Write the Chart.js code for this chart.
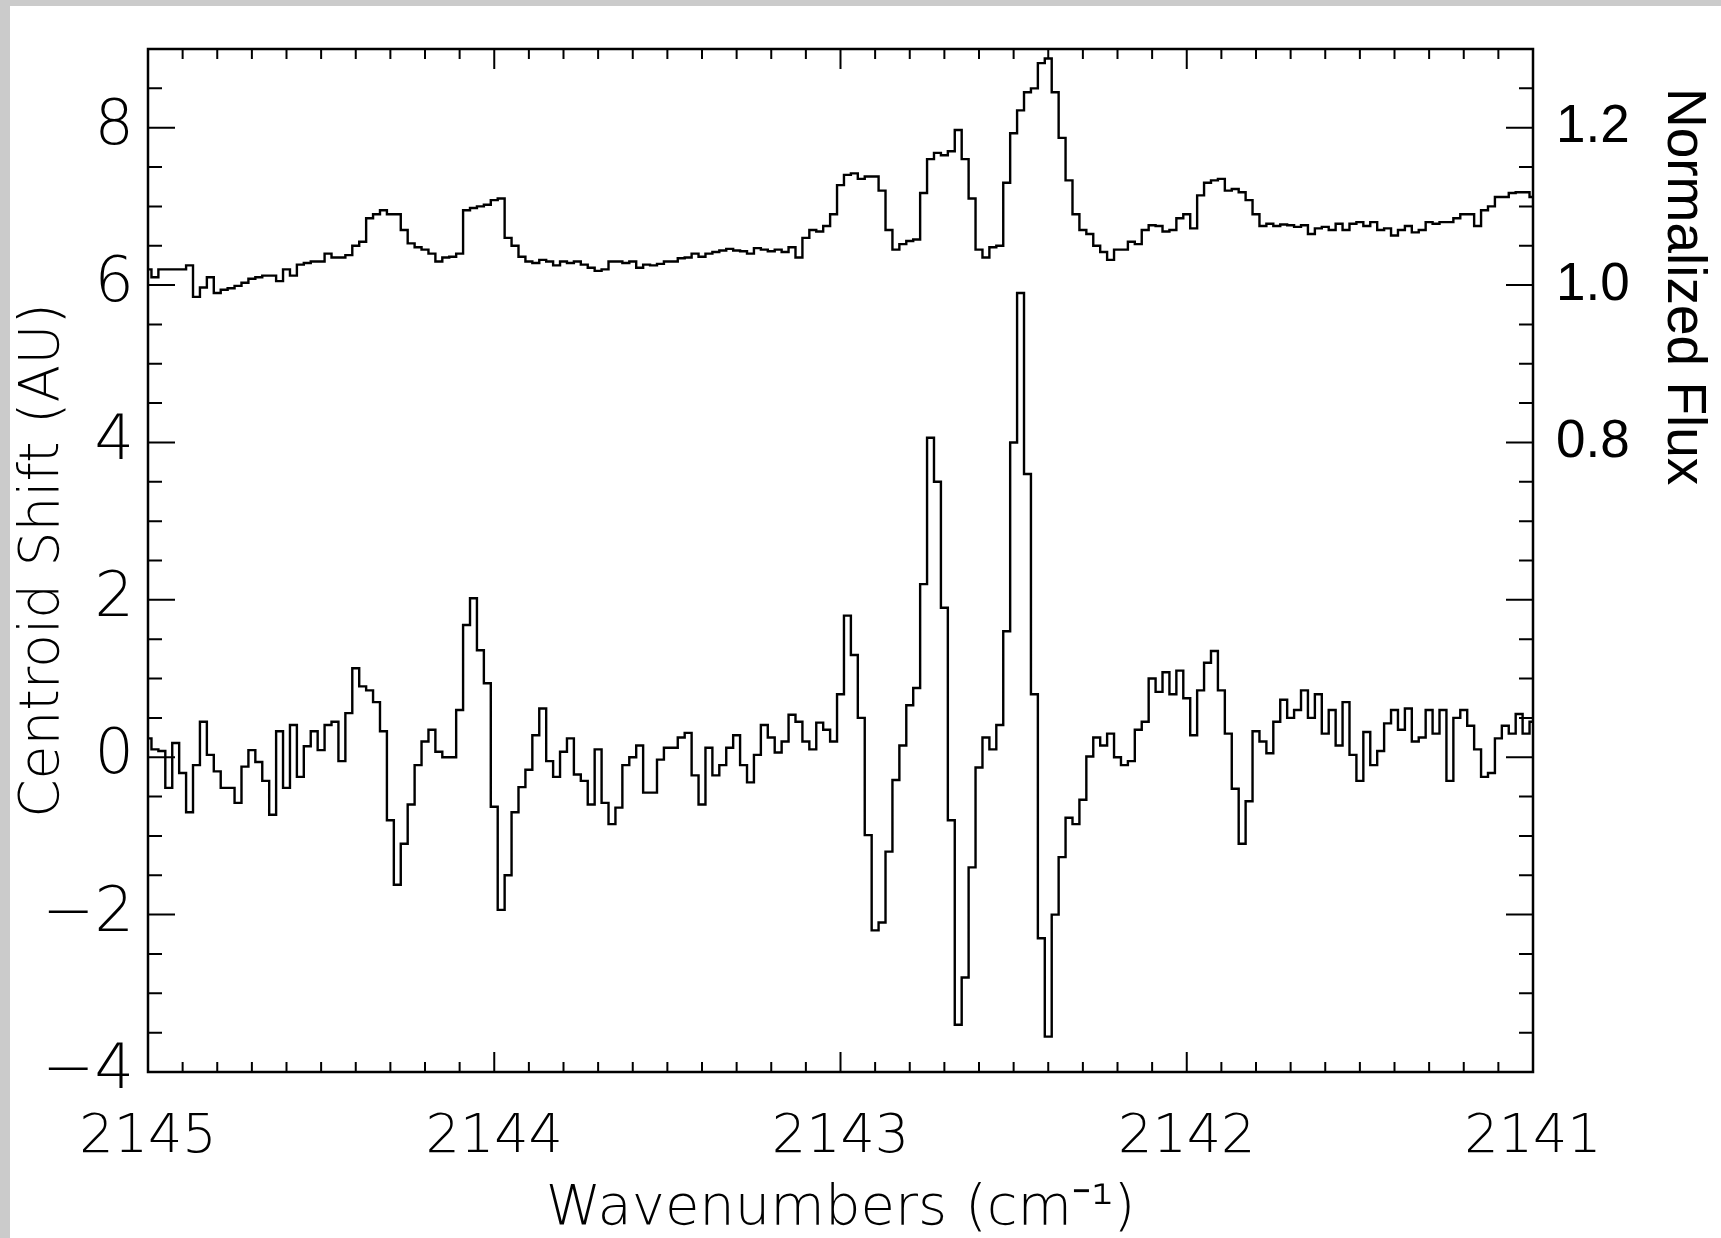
<!DOCTYPE html>
<html>
<head>
<meta charset="utf-8">
<title>Centroid shift and normalized flux</title>
<script src="https://cdn.jsdelivr.net/npm/chart.js@4.4.1/dist/chart.umd.min.js"></script>
<style>
  html, body { margin: 0; padding: 0; background: #cbcbcb; }
  #wrap { position: absolute; left: 10px; top: 6px; width: 1711px; height: 1232px; background: #fff; }
</style>
</head>
<body>
<div id="wrap"><canvas id="shiftChart" width="1711" height="1232"></canvas></div>
<script>
// spectral grid: bin centres from 2145 cm^-1 downward
const WN_START = 2145;
const WN_STEP = 0.02;

// spectro-astrometric centroid shift (AU), left axis
const centroidShift = [
  0.24, 0.1, 0.08, -0.39, 0.18, -0.2, -0.7, -0.1, 0.45, 0.03,
  -0.18, -0.39, -0.39, -0.58, -0.12, 0.09, -0.06, -0.3, -0.73, 0.33,
  -0.39, 0.41, -0.25, 0.14, 0.33, 0.09, 0.41, 0.45, -0.05, 0.56,
  1.13, 0.9, 0.85, 0.7, 0.33, -0.8, -1.62, -1.1, -0.6, -0.1,
  0.2, 0.35, 0.07, 0.0, 0.0, 0.6, 1.68, 2.02, 1.36, 0.94,
  -0.63, -1.94, -1.5, -0.7, -0.38, -0.16, 0.28, 0.62, -0.05, -0.25,
  0.07, 0.24, -0.22, -0.3, -0.6, 0.1, -0.58, -0.85, -0.64, -0.1,
  0.0, 0.15, -0.45, -0.45, -0.03, 0.12, 0.12, 0.25, 0.31, -0.23,
  -0.6, 0.12, -0.23, -0.1, 0.12, 0.28, -0.1, -0.32, 0.03, 0.41,
  0.25, 0.06, 0.2, 0.54, 0.45, 0.2, 0.1, 0.44, 0.35, 0.2,
  0.8, 1.8, 1.3, 0.5, -0.99, -2.2, -2.1, -1.2, -0.29, 0.15,
  0.66, 0.88, 2.2, 4.06, 3.5, 1.9, -0.8, -3.4, -2.8, -1.4,
  -0.13, 0.25, 0.1, 0.41, 1.6, 4.0, 5.9, 3.6, 0.8, -2.3,
  -3.55, -2.0, -1.27, -0.77, -0.85, -0.54, 0.01, 0.25, 0.15, 0.3,
  0.0, -0.1, -0.05, 0.35, 0.45, 1.0, 0.83, 1.08, 0.8, 1.1,
  0.75, 0.28, 0.85, 1.2, 1.35, 0.85, 0.3, -0.4, -1.1, -0.56,
  0.33, 0.2, 0.05, 0.45, 0.73, 0.5, 0.6, 0.85, 0.5, 0.8,
  0.3, 0.6, 0.15, 0.7, 0.03, -0.3, 0.32, -0.1, 0.08, 0.43,
  0.6, 0.35, 0.62, 0.2, 0.25, 0.6, 0.3, 0.6, -0.3, 0.5,
  0.6, 0.4, 0.1, -0.25, -0.2, 0.24, 0.4, 0.3, 0.55, 0.3, 0.45
];

// continuum-normalized flux, right axis
const normalizedFlux = [
  1.02, 1.01, 1.02, 1.02, 1.02, 1.02, 1.025, 0.985, 0.997, 1.01,
  0.99, 0.994, 0.996, 0.999, 1.003, 1.008, 1.01, 1.012, 1.012, 1.005,
  1.02, 1.012, 1.026, 1.028, 1.03, 1.03, 1.04, 1.035, 1.035, 1.038,
  1.05, 1.055, 1.085, 1.09, 1.095, 1.09, 1.09, 1.07, 1.053, 1.048,
  1.045, 1.04, 1.03, 1.035, 1.036, 1.04, 1.095, 1.098, 1.1, 1.102,
  1.108, 1.11, 1.06, 1.05, 1.036, 1.03, 1.028, 1.032, 1.03, 1.025,
  1.03, 1.028, 1.03, 1.026, 1.022, 1.018, 1.02, 1.03, 1.03, 1.028,
  1.03, 1.022, 1.026, 1.025, 1.027, 1.03, 1.03, 1.034, 1.035, 1.04,
  1.036, 1.04, 1.042, 1.044, 1.046, 1.044, 1.043, 1.04, 1.047, 1.045,
  1.043, 1.045, 1.042, 1.048, 1.035, 1.06, 1.07, 1.068, 1.075, 1.09,
  1.127, 1.14, 1.142, 1.135, 1.138, 1.138, 1.12, 1.07, 1.045, 1.052,
  1.056, 1.058, 1.117, 1.16, 1.168, 1.165, 1.17, 1.197, 1.16, 1.11,
  1.045, 1.035, 1.048, 1.05, 1.13, 1.193, 1.222, 1.245, 1.25, 1.282,
  1.288, 1.245, 1.187, 1.133, 1.09, 1.07, 1.065, 1.05, 1.042, 1.032,
  1.045, 1.045, 1.055, 1.052, 1.07, 1.076, 1.075, 1.068, 1.07, 1.085,
  1.09, 1.072, 1.114, 1.13, 1.133, 1.135, 1.12, 1.122, 1.118, 1.108,
  1.09, 1.075, 1.078, 1.075, 1.077, 1.076, 1.074, 1.076, 1.065, 1.072,
  1.074, 1.07, 1.078, 1.07, 1.078, 1.08, 1.075, 1.08, 1.07, 1.072,
  1.063, 1.07, 1.075, 1.067, 1.07, 1.08, 1.078, 1.08, 1.08, 1.085,
  1.09, 1.09, 1.075, 1.095, 1.1, 1.112, 1.112, 1.117, 1.118, 1.118, 1.112
];

const wavenumbers = centroidShift.map((_, i) => +(WN_START - i * WN_STEP).toFixed(2));

// labelled ticks
const xLabels = [2145, 2144, 2143, 2142, 2141];
const leftLabels = [-4, -2, 0, 2, 4, 6, 8];
const rightLabels = [0.8, 1.0, 1.2];

const near = (a, b) => Math.abs(a - b) < 1e-6;
const inList = (list, v) => list.some((l) => near(l, v));
const thinFont = '"DejaVu Sans", sans-serif';

// fixed axis box; drop the label overhang so the frame sits where the layout padding puts it
const fixWidth = (w) => (s) => {
  s.width = w;
  s.paddingTop = 0;
  s.paddingBottom = 0;
};

// idl-style frame: ticks point inward on all four sides
const frameTicks = {
  id: "frameTicks",
  afterDraw(chart) {
    const { ctx, chartArea: a } = chart;
    const { x, y, y1 } = chart.scales;
    ctx.save();
    ctx.strokeStyle = "#000";
    ctx.lineWidth = 2;
    ctx.beginPath();
    x.ticks.forEach((t) => {
      const px = x.getPixelForValue(t.value);
      const len = near(t.value, Math.round(t.value)) ? 20 : 10;
      ctx.moveTo(px, a.bottom); ctx.lineTo(px, a.bottom - len);
      ctx.moveTo(px, a.top); ctx.lineTo(px, a.top + len);
    });
    y.ticks.forEach((t) => {
      const py = y.getPixelForValue(t.value);
      const len = near(t.value / 2, Math.round(t.value / 2)) ? 27 : 14;
      ctx.moveTo(a.left, py); ctx.lineTo(a.left + len, py);
    });
    y1.ticks.forEach((t) => {
      const py = y1.getPixelForValue(t.value);
      const len = near(t.value / 0.2, Math.round(t.value / 0.2)) ? 27 : 14;
      ctx.moveTo(a.right, py); ctx.lineTo(a.right - len, py);
    });
    ctx.stroke();
    ctx.lineWidth = 2.5;
    ctx.strokeRect(a.left, a.top, a.width, a.height);

    // right-hand axis title, reads top to bottom
    ctx.fillStyle = "#000";
    ctx.font = '55px "Liberation Sans", Arial, sans-serif';
    ctx.textAlign = "left";
    ctx.textBaseline = "middle";
    ctx.translate(a.right + 150, a.top + 39);
    ctx.rotate(Math.PI / 2);
    ctx.fillText("Normalized Flux", 0, 0);
    ctx.restore();
  }
};

const lineStyle = {
  borderColor: "#000",
  borderWidth: 2.4,
  pointRadius: 0,
  fill: false,
  stepped: "middle"
};

const chart = new Chart(document.getElementById("shiftChart").getContext("2d"), {
  type: "line",
  data: {
    datasets: [
      {
        ...lineStyle,
        label: "Centroid Shift",
        yAxisID: "y",
        data: wavenumbers.map((w, i) => ({ x: w, y: centroidShift[i] }))
      },
      {
        ...lineStyle,
        label: "Normalized Flux",
        yAxisID: "y1",
        data: wavenumbers.map((w, i) => ({ x: w, y: normalizedFlux[i] }))
      }
    ]
  },
  options: {
    responsive: false,
    animation: false,
    layout: { padding: { top: 43, left: 0, right: 0, bottom: 0 } },
    plugins: { legend: { display: false }, tooltip: { enabled: false } },
    scales: {
      x: {
        type: "linear",
        min: 2141,
        max: 2145,
        reverse: true,
        grid: { display: false, drawTicks: false },
        border: { display: false },
        afterFit: (s) => { s.height = 166; },
        ticks: {
          stepSize: 0.1,
          autoSkip: false,
          maxRotation: 0,
          minRotation: 0,
          padding: 34,
          color: "#000",
          font: { family: thinFont, size: 54, weight: "200" },
          callback: (v) => (inList(xLabels, v) ? String(Math.round(v)) : "")
        },
        title: {
          display: true,
          text: "Wavenumbers (cm\u207B\u00B9)",
          color: "#000",
          font: { family: thinFont, size: 56, weight: "200", lineHeight: 1.0 },
          padding: { top: 0, bottom: 1 }
        }
      },
      y: {
        position: "left",
        min: -4,
        max: 9,
        grid: { display: false, drawTicks: false },
        border: { display: false },
        afterFit: fixWidth(138),
        ticks: {
          stepSize: 0.5,
          autoSkip: false,
          padding: 14,
          color: "#000",
          font: { family: thinFont, size: 62, weight: "200" },
          callback: (v) => {
            if (!inList(leftLabels, v)) return "";
            return v < 0 ? "\u2212" + Math.abs(v) : String(v);
          }
        },
        title: {
          display: true,
          text: "Centroid Shift (AU)",
          color: "#000",
          font: { family: thinFont, size: 55, weight: "200" },
          padding: { top: 1, bottom: 0 }
        }
      },
      y1: {
        position: "right",
        min: 0,
        max: 1.3,
        grid: { display: false, drawTicks: false },
        border: { display: false },
        afterFit: fixWidth(188),
        ticks: {
          stepSize: 0.05,
          autoSkip: false,
          padding: 23,
          color: "#000",
          font: { family: '"Liberation Sans Narrow", "Liberation Sans", sans-serif', size: 53 },
          callback: (v) => (inList(rightLabels, v) ? v.toFixed(1) : "")
        }
      }
    }
  },
  plugins: [frameTicks]
});
</script>
</body>
</html>
